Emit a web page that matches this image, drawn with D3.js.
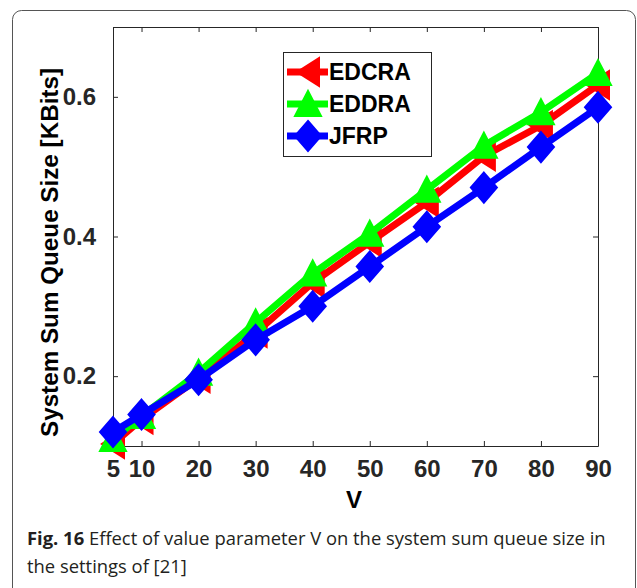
<!DOCTYPE html>
<html>
<head>
<meta charset="utf-8">
<script src="https://cdn.jsdelivr.net/npm/d3@7"></script>
<style>
  body { margin: 0; background: #fff; }
  svg { display: block; }
</style>
</head>
<body>
<svg id="chart" width="637" height="588"></svg>
<script>
// data
var vValues = [5, 10, 20, 30, 40, 50, 60, 70, 80, 90];
var edcra = [0.103, 0.138, 0.197, 0.262, 0.334, 0.392, 0.449, 0.515, 0.559, 0.617];
var eddra = [0.110, 0.143, 0.205, 0.277, 0.347, 0.404, 0.467, 0.530, 0.578, 0.634];
var jfrp  = [0.120, 0.145, 0.195, 0.252, 0.300, 0.357, 0.414, 0.470, 0.528, 0.585];
var seriesNames = ['EDCRA', 'EDDRA', 'JFRP'];
var xTicks = [5, 10, 20, 30, 40, 50, 60, 70, 80, 90];
var yTicks = [0.2, 0.4, 0.6];

var colors = {EDCRA: '#ff0000', EDDRA: '#00ff00', JFRP: '#0000ff'};
var shapes = {EDCRA: 'left', EDDRA: 'up', JFRP: 'diamond'};

var svg = d3.select('#chart');
var axisColor = '#262626';

// rounded outer frame, runs past the bottom of the picture
svg.append('rect')
  .attr('x', 12.5).attr('y', 10.5)
  .attr('width', 623).attr('height', 620)
  .attr('rx', 9)
  .attr('fill', 'none')
  .attr('stroke', '#555')
  .attr('stroke-width', 1);

var plot = {left: 113, right: 598, top: 27, bottom: 446};

var x = d3.scaleLinear().domain([5, 90]).range([plot.left, plot.right]);
var y = d3.scaleLinear().domain([0.1, 0.7]).range([plot.bottom, plot.top]);

// marker paths centered on 0,0
function markerPath(kind) {
  if (kind === 'left') return 'M-11,0 L11,-14 L11,14 Z';
  if (kind === 'up') return 'M0,-13 L13,12 L-13,12 Z';
  return 'M0,-15 L13,0 L0,15 L-13,0 Z';
}

// axes box
var gAxes = svg.append('g');

var xAxis = d3.axisBottom(x).tickValues(xTicks).tickFormat(d3.format('d'))
  .tickSizeInner(-5).tickSizeOuter(0).tickPadding(14);
var gx = gAxes.append('g').attr('transform', 'translate(0,' + plot.bottom + ')').call(xAxis);

var xTop = d3.axisTop(x).tickValues(xTicks).tickFormat('').tickSizeInner(-5).tickSizeOuter(0);
gAxes.append('g').attr('transform', 'translate(0,' + plot.top + ')').call(xTop);

var yAxis = d3.axisLeft(y).tickValues(yTicks).tickFormat(d3.format('.1f'))
  .tickSizeInner(-5).tickSizeOuter(0).tickPadding(17);
gAxes.append('g').attr('transform', 'translate(' + plot.left + ',0)').call(yAxis);

var yRight = d3.axisRight(y).tickValues(yTicks).tickFormat('').tickSizeInner(-5).tickSizeOuter(0);
gAxes.append('g').attr('transform', 'translate(' + plot.right + ',0)').call(yRight);

gAxes.selectAll('.domain, .tick line').attr('stroke', axisColor).attr('stroke-width', 1);
gAxes.selectAll('.tick text')
  .attr('fill', axisColor)
  .style('font-family', '"Liberation Sans", Arial, sans-serif')
  .style('font-weight', 'bold')
  .style('font-size', '24px');

// axis titles
svg.append('text')
  .attr('x', 354).attr('y', 508)
  .attr('text-anchor', 'middle')
  .style('font-family', '"Liberation Sans", Arial, sans-serif')
  .style('font-weight', 'bold')
  .style('font-size', '24px')
  .attr('fill', '#000')
  .text('V');

svg.append('text')
  .attr('transform', 'translate(58,252.5) rotate(-90)')
  .attr('text-anchor', 'middle')
  .attr('textLength', 369)
  .attr('lengthAdjust', 'spacingAndGlyphs')
  .style('font-family', '"Liberation Sans", Arial, sans-serif')
  .style('font-weight', 'bold')
  .style('font-size', '23.5px')
  .attr('fill', '#000')
  .text('System Sum Queue Size [KBits]');

// series
var series = [
  {name: 'EDCRA', values: edcra},
  {name: 'EDDRA', values: eddra},
  {name: 'JFRP', values: jfrp}
];

var line = d3.line()
  .x(function(d) { return x(d.v); })
  .y(function(d) { return y(d.q); });

var gSeries = svg.append('g');
series.forEach(function(s) {
  var pts = vValues.map(function(v, i) { return {v: v, q: s.values[i]}; });
  var g = gSeries.append('g');
  g.append('path')
    .datum(pts)
    .attr('d', line)
    .attr('fill', 'none')
    .attr('stroke', colors[s.name])
    .attr('stroke-width', 7)
    .attr('stroke-linejoin', 'round');
  g.selectAll('path.mk')
    .data(pts)
    .enter()
    .append('path')
    .classed('mk', true)
    .attr('transform', function(d) { return 'translate(' + x(d.v) + ',' + y(d.q) + ')'; })
    .attr('d', markerPath(shapes[s.name]))
    .attr('fill', colors[s.name])
    .attr('stroke', colors[s.name])
    .attr('stroke-width', 2)
    .attr('stroke-linejoin', 'miter');
});

// legend
var legend = svg.append('g');
legend.append('rect')
  .attr('x', 283.5).attr('y', 52.5)
  .attr('width', 148).attr('height', 104)
  .attr('fill', '#fff')
  .attr('stroke', axisColor)
  .attr('stroke-width', 1);

seriesNames.forEach(function(name, i) {
  var cy = 72 + i * 32;
  legend.append('line')
    .attr('x1', 287).attr('x2', 328)
    .attr('y1', cy).attr('y2', cy)
    .attr('stroke', colors[name])
    .attr('stroke-width', 7);
  legend.append('path')
    .attr('transform', 'translate(308,' + cy + ')')
    .attr('d', markerPath(shapes[name]))
    .attr('fill', colors[name])
    .attr('stroke', colors[name])
    .attr('stroke-width', 2);
  legend.append('text')
    .attr('x', 329).attr('y', cy + 8)
    .style('font-family', '"Liberation Sans", Arial, sans-serif')
    .style('font-weight', 'bold')
    .style('font-size', '23px')
    .attr('fill', '#000')
    .text(name);
});

// caption
var caption = svg.append('g')
  .style('font-family', '"Open Sans", "Noto Sans", sans-serif')
  .style('font-size', '18.4px')
  .attr('fill', '#231f20');

var cap1 = caption.append('text').attr('x', 27).attr('y', 545);
cap1.append('tspan').style('font-weight', 'bold').text('Fig. 16');
cap1.append('tspan').text(' Effect of value parameter V on the system sum queue size in');
caption.append('text').attr('x', 27).attr('y', 573).text('the settings of [21]');
</script>
</body>
</html>
